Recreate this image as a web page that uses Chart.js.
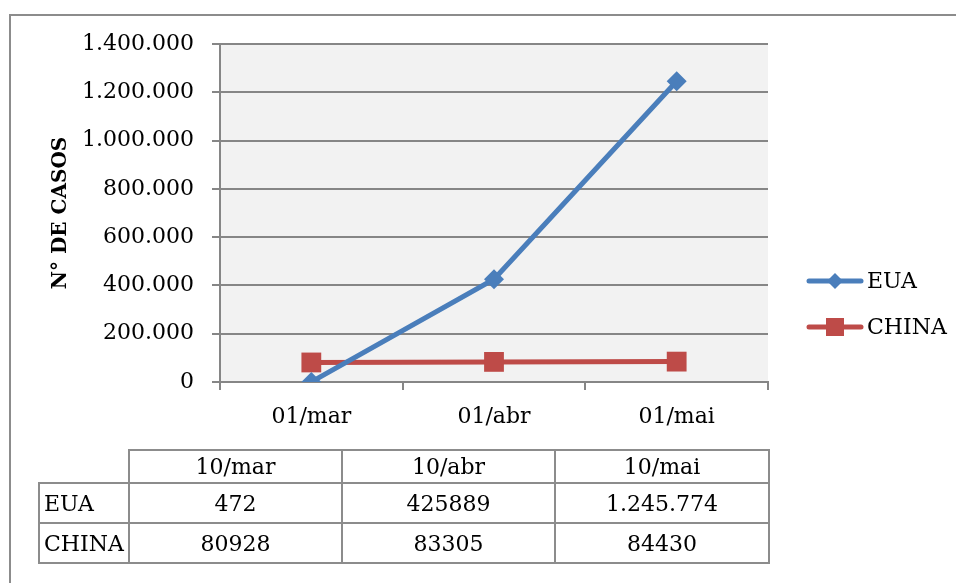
<!DOCTYPE html>
<html>
<head>
<meta charset="utf-8">
<script src="https://cdn.jsdelivr.net/npm/chart.js@4.4.1/dist/chart.umd.min.js"></script>
<style>
body { margin: 0; background: #fff; }
#wrap { position: relative; width: 956px; height: 583px; }
#tabela { position: absolute; left: 38px; top: 449px; border-collapse: collapse; table-layout: fixed;
  font-family: 'DejaVu Serif'; font-size: 22px; color: #000; }
#tabela td { border: 2px solid #8c8c8c; padding: 0; text-align: center; box-sizing: border-box; }
#tabela td.vazio { border-top: none; border-left: none; }
#tabela td.rotulo { text-align: left; padding-left: 4px; }
</style>
</head>
<body>
<div id="wrap">
  <canvas id="grafico" width="956" height="583"></canvas>
  <table id="tabela"></table>
</div>
<script>
// dados
const categorias = ['01/mar', '01/abr', '01/mai'];
const eua = [472, 425889, 1245774];
const china = [80928, 83305, 84430];
const nomesSeries = ['EUA', 'CHINA'];

// tabela de dados abaixo do grafico
const datasTabela = ['10/mar', '10/abr', '10/mai'];
const euaTabela = ['472', '425889', '1.245.774'];
const chinaTabela = ['80928', '83305', '84430'];

const azul = '#4a7ebb';
const vermelho = '#be4b48';
const cinza = '#868686';

function milhar(v) {
    return v.toString().replace(/\B(?=(\d{3})+(?!\d))/g, '.');
}

// monta a tabela
let tab = document.getElementById('tabela');
let larguras = [90, 213, 213, 214];
let linhas = [
    ['', datasTabela, 33],
    [nomesSeries[0], euaTabela, 40],
    [nomesSeries[1], chinaTabela, 40]
];
let tw = 0;
for (let k in larguras) tw += larguras[k];
tab.style.width = tw + 'px';
for (let i in linhas) {
    let tr = document.createElement('tr');
    tr.style.height = linhas[i][2] + 'px';
    let td0 = document.createElement('td');
    td0.textContent = linhas[i][0];
    td0.className = i == 0 ? 'vazio' : 'rotulo';
    td0.style.width = larguras[0] + 'px';
    tr.appendChild(td0);
    for (let j in linhas[i][1]) {
        let td = document.createElement('td');
        td.textContent = linhas[i][1][j];
        td.style.width = larguras[+j + 1] + 'px';
        tr.appendChild(td);
    }
    tab.appendChild(tr);
}

Chart.defaults.font.family = "'DejaVu Serif'";
Chart.defaults.font.size = 22;
Chart.defaults.color = '#000';

// fundo, moldura e area de plotagem
const fundo = {
    id: 'fundo',
    beforeDraw(chart) {
        let ctx = chart.ctx;
        let a = chart.chartArea;
        ctx.save();
        ctx.fillStyle = '#fff';
        ctx.fillRect(0, 0, chart.width, chart.height);
        ctx.strokeStyle = '#8c8c8c';
        ctx.lineWidth = 2;
        ctx.strokeRect(10, 15, chart.width + 10, chart.height + 10);
        ctx.fillStyle = '#f2f2f2';
        ctx.fillRect(a.left, a.top, a.right - a.left, a.bottom - a.top);
        ctx.restore();
    }
};

// legenda no estilo do excel (linha com marcador)
const legenda = {
    id: 'legenda',
    afterDraw(chart) {
        let ctx = chart.ctx;
        let ys = [281, 327];
        ctx.save();
        chart.data.datasets.forEach(function (ds, i) {
            let y = ys[i];
            ctx.strokeStyle = ds.borderColor;
            ctx.lineWidth = 5;
            ctx.lineCap = 'round';
            ctx.beginPath();
            ctx.moveTo(809, y);
            ctx.lineTo(861, y);
            ctx.stroke();
            ctx.fillStyle = ds.backgroundColor;
            ctx.beginPath();
            if (ds.pointStyle === 'rectRot') {
                ctx.moveTo(835, y - 8);
                ctx.lineTo(843, y);
                ctx.lineTo(835, y + 8);
                ctx.lineTo(827, y);
                ctx.closePath();
            } else {
                ctx.rect(826, y - 9, 18, 18);
            }
            ctx.fill();
            ctx.fillStyle = '#000';
            ctx.font = "22px 'DejaVu Serif'";
            ctx.textBaseline = 'middle';
            ctx.textAlign = 'left';
            ctx.fillText(ds.label, 867, y + 1);
        });
        ctx.restore();
    }
};

let canvas = document.getElementById('grafico');
let meuGrafico = new Chart(canvas, {
    type: 'line',
    data: {
        labels: categorias,
        datasets: [{
            label: nomesSeries[0],
            data: eua,
            borderColor: azul,
            backgroundColor: azul,
            borderWidth: 5,
            pointStyle: 'rectRot',
            pointRadius: 10,
            pointBorderWidth: 0,
            pointHoverRadius: 10
        }, {
            label: nomesSeries[1],
            data: china,
            borderColor: vermelho,
            backgroundColor: vermelho,
            borderWidth: 5,
            pointStyle: 'rect',
            pointRadius: 14,
            pointBorderWidth: 0,
            pointHoverRadius: 14
        }]
    },
    options: {
        responsive: false,
        animation: false,
        events: [],
        layout: { padding: { left: 45, top: 44, right: 188, bottom: 151 } },
        plugins: {
            legend: { display: false },
            tooltip: { enabled: false }
        },
        scales: {
            x: {
                offset: true,
                grid: { offset: true, drawOnChartArea: false, tickLength: 8, color: cinza, lineWidth: 2 },
                border: { color: cinza, width: 2 },
                ticks: { padding: 14 },
                afterFit: function (s) { s.height = 50; }
            },
            y: {
                min: 0,
                max: 1400000,
                ticks: { stepSize: 200000, padding: 18, callback: function (v) { return milhar(v); } },
                grid: { color: cinza, lineWidth: 2, tickLength: 8 },
                border: { color: cinza, width: 2 },
                title: {
                    display: true,
                    text: 'N° DE CASOS',
                    font: { size: 20, weight: 'bold' },
                    padding: { top: 4, bottom: 0 }
                },
                afterFit: function (s) { s.width = 175; }
            }
        }
    },
    plugins: [fundo, legenda]
});
</script>
</body>
</html>
